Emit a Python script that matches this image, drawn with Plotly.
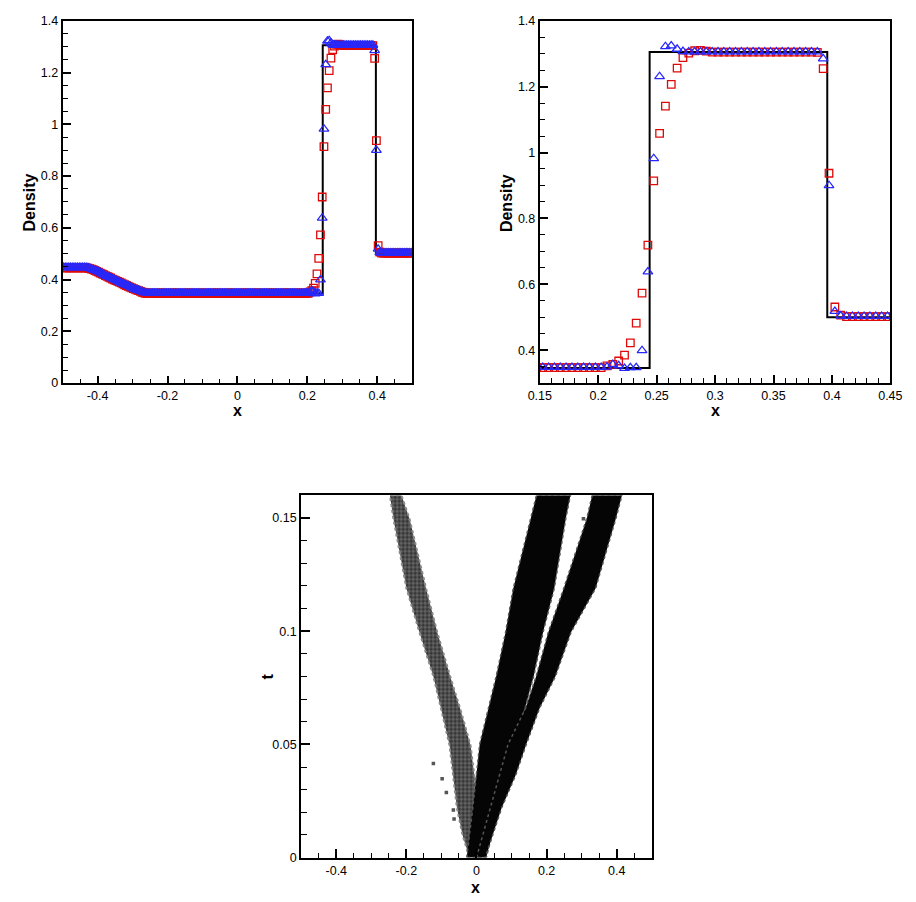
import plotly.graph_objects as go

# ---------------- data: density at t = 0.16 (cell centres) ----------------
x_cells = [
    -0.4975, -0.4925, -0.4875, -0.4825, -0.4775, -0.4725, -0.4675, -0.4625, -0.4575, -0.4525,
    -0.4475, -0.4425, -0.4375, -0.4325, -0.4275, -0.4225, -0.4175, -0.4125, -0.4075, -0.4025,
    -0.3975, -0.3925, -0.3875, -0.3825, -0.3775, -0.3725, -0.3675, -0.3625, -0.3575, -0.3525,
    -0.3475, -0.3425, -0.3375, -0.3325, -0.3275, -0.3225, -0.3175, -0.3125, -0.3075, -0.3025,
    -0.2975, -0.2925, -0.2875, -0.2825, -0.2775, -0.2725, -0.2675, -0.2625, -0.2575, -0.2525,
    -0.2475, -0.2425, -0.2375, -0.2325, -0.2275, -0.2225, -0.2175, -0.2125, -0.2075, -0.2025,
    -0.1975, -0.1925, -0.1875, -0.1825, -0.1775, -0.1725, -0.1675, -0.1625, -0.1575, -0.1525,
    -0.1475, -0.1425, -0.1375, -0.1325, -0.1275, -0.1225, -0.1175, -0.1125, -0.1075, -0.1025,
    -0.0975, -0.0925, -0.0875, -0.0825, -0.0775, -0.0725, -0.0675, -0.0625, -0.0575, -0.0525,
    -0.0475, -0.0425, -0.0375, -0.0325, -0.0275, -0.0225, -0.0175, -0.0125, -0.0075, -0.0025,
    0.0025, 0.0075, 0.0125, 0.0175, 0.0225, 0.0275, 0.0325, 0.0375, 0.0425, 0.0475,
    0.0525, 0.0575, 0.0625, 0.0675, 0.0725, 0.0775, 0.0825, 0.0875, 0.0925, 0.0975,
    0.1025, 0.1075, 0.1125, 0.1175, 0.1225, 0.1275, 0.1325, 0.1375, 0.1425, 0.1475,
    0.1525, 0.1575, 0.1625, 0.1675, 0.1725, 0.1775, 0.1825, 0.1875, 0.1925, 0.1975,
    0.2025, 0.2075, 0.2125, 0.2175, 0.2225, 0.2275, 0.2325, 0.2375, 0.2425, 0.2475,
    0.2525, 0.2575, 0.2625, 0.2675, 0.2725, 0.2775, 0.2825, 0.2875, 0.2925, 0.2975,
    0.3025, 0.3075, 0.3125, 0.3175, 0.3225, 0.3275, 0.3325, 0.3375, 0.3425, 0.3475,
    0.3525, 0.3575, 0.3625, 0.3675, 0.3725, 0.3775, 0.3825, 0.3875, 0.3925, 0.3975,
    0.4025, 0.4075, 0.4125, 0.4175, 0.4225, 0.4275, 0.4325, 0.4375, 0.4425, 0.4475,
    0.4525, 0.4575, 0.4625, 0.4675, 0.4725, 0.4775, 0.4825, 0.4875, 0.4925, 0.4975,
]

rho_squares = [
    0.445, 0.445, 0.445, 0.445, 0.445, 0.445, 0.445, 0.445, 0.445, 0.445,
    0.445, 0.445, 0.445, 0.445, 0.444, 0.442, 0.440, 0.438, 0.435, 0.432,
    0.429, 0.425, 0.422, 0.419, 0.415, 0.412, 0.409, 0.406, 0.402, 0.399,
    0.396, 0.393, 0.390, 0.387, 0.383, 0.380, 0.377, 0.374, 0.371, 0.368,
    0.365, 0.362, 0.359, 0.357, 0.354, 0.351, 0.349, 0.347, 0.347, 0.347,
    0.347, 0.347, 0.347, 0.347, 0.347, 0.347, 0.347, 0.347, 0.347, 0.347,
    0.347, 0.347, 0.347, 0.347, 0.347, 0.347, 0.347, 0.347, 0.347, 0.347,
    0.347, 0.347, 0.347, 0.347, 0.347, 0.347, 0.347, 0.347, 0.347, 0.347,
    0.347, 0.347, 0.347, 0.347, 0.347, 0.347, 0.347, 0.347, 0.347, 0.347,
    0.347, 0.347, 0.347, 0.347, 0.347, 0.347, 0.347, 0.347, 0.347, 0.347,
    0.347, 0.347, 0.347, 0.347, 0.347, 0.347, 0.347, 0.347, 0.347, 0.347,
    0.347, 0.347, 0.347, 0.347, 0.347, 0.347, 0.347, 0.347, 0.347, 0.347,
    0.347, 0.347, 0.347, 0.347, 0.347, 0.347, 0.347, 0.347, 0.347, 0.347,
    0.347, 0.347, 0.347, 0.347, 0.347, 0.347, 0.347, 0.347, 0.347, 0.347,
    0.347, 0.352, 0.357, 0.367, 0.385, 0.422, 0.482, 0.573, 0.719, 0.914,
    1.058, 1.141, 1.207, 1.256, 1.288, 1.302, 1.309, 1.310, 1.308, 1.305,
    1.305, 1.305, 1.305, 1.305, 1.305, 1.305, 1.305, 1.305, 1.305, 1.305,
    1.305, 1.305, 1.305, 1.305, 1.305, 1.305, 1.305, 1.304, 1.255, 0.937,
    0.531, 0.506, 0.502, 0.502, 0.502, 0.502, 0.502, 0.502, 0.502, 0.502,
    0.502, 0.502, 0.502, 0.502, 0.502, 0.502, 0.502, 0.502, 0.502, 0.502,
]

rho_triangles = [
    0.447, 0.447, 0.447, 0.447, 0.447, 0.447, 0.447, 0.447, 0.447, 0.447,
    0.447, 0.447, 0.447, 0.447, 0.446, 0.444, 0.441, 0.439, 0.436, 0.433,
    0.430, 0.426, 0.423, 0.420, 0.416, 0.413, 0.410, 0.407, 0.403, 0.400,
    0.397, 0.394, 0.391, 0.388, 0.384, 0.381, 0.378, 0.375, 0.372, 0.369,
    0.366, 0.363, 0.360, 0.358, 0.355, 0.352, 0.350, 0.349, 0.348, 0.348,
    0.348, 0.348, 0.348, 0.348, 0.348, 0.348, 0.348, 0.348, 0.348, 0.348,
    0.348, 0.348, 0.348, 0.348, 0.348, 0.348, 0.348, 0.348, 0.348, 0.348,
    0.348, 0.348, 0.348, 0.348, 0.348, 0.348, 0.348, 0.348, 0.348, 0.348,
    0.348, 0.348, 0.348, 0.348, 0.348, 0.348, 0.348, 0.348, 0.348, 0.348,
    0.348, 0.348, 0.348, 0.348, 0.348, 0.348, 0.348, 0.348, 0.348, 0.348,
    0.348, 0.348, 0.348, 0.348, 0.348, 0.348, 0.348, 0.348, 0.348, 0.348,
    0.348, 0.348, 0.348, 0.348, 0.348, 0.348, 0.348, 0.348, 0.348, 0.348,
    0.348, 0.348, 0.348, 0.348, 0.348, 0.348, 0.348, 0.348, 0.348, 0.348,
    0.348, 0.348, 0.348, 0.348, 0.348, 0.348, 0.348, 0.348, 0.348, 0.348,
    0.348, 0.349, 0.357, 0.353, 0.345, 0.347, 0.347, 0.399, 0.638, 0.982,
    1.231, 1.322, 1.324, 1.314, 1.307, 1.306, 1.306, 1.306, 1.306, 1.306,
    1.306, 1.306, 1.306, 1.306, 1.306, 1.306, 1.306, 1.306, 1.306, 1.306,
    1.306, 1.306, 1.306, 1.306, 1.306, 1.306, 1.306, 1.306, 1.285, 0.900,
    0.518, 0.504, 0.503, 0.503, 0.503, 0.503, 0.503, 0.503, 0.503, 0.503,
    0.503, 0.503, 0.503, 0.503, 0.503, 0.503, 0.503, 0.503, 0.503, 0.503,
]

# reference (exact) solution
x_exact = [-0.5, -0.421, -0.40, -0.38, -0.36, -0.34, -0.32, -0.30, -0.28, -0.263,
           0.244, 0.244, 0.396, 0.396, 0.5]
rho_exact = [0.445, 0.445, 0.431, 0.417, 0.404, 0.391, 0.379, 0.367, 0.355, 0.346,
             0.346, 1.305, 1.305, 0.5, 0.5]

# ---------------- data: troubled-cell regions in the x-t plane ----------------
rare_t = [0.0, 0.01, 0.022, 0.035, 0.0496, 0.065, 0.08, 0.0996, 0.119, 0.1496, 0.16]
rare_xl = [-0.02, -0.04, -0.056, -0.065, -0.077, -0.100, -0.123, -0.163, -0.200, -0.237, -0.247]
rare_xr = [0.0, 0.0, 0.0, -0.005, -0.017, -0.045, -0.075, -0.112, -0.144, -0.191, -0.214]

cont_t = [0.0, 0.02, 0.05, 0.08, 0.0996, 0.119, 0.15, 0.16]
cont_xl = [-0.028, -0.012, 0.009, 0.056, 0.083, 0.105, 0.155, 0.171]
cont_xr = [0.028, 0.06, 0.11, 0.163, 0.190, 0.222, 0.255, 0.268]

shock_t = [0.0, 0.022, 0.0365, 0.05, 0.066, 0.08, 0.0996, 0.119, 0.15, 0.16]
shock_xl = [0.0, 0.04, 0.065, 0.09, 0.14, 0.17, 0.205, 0.249, 0.315, 0.33]
shock_xr = [0.025, 0.072, 0.112, 0.142, 0.18, 0.225, 0.27, 0.34, 0.398, 0.415]

speck_x = [-0.123, -0.098, -0.086, -0.066, -0.064, 0.305]
speck_t = [0.0416, 0.0348, 0.0287, 0.021, 0.017, 0.1496]

# ---------------- figure ----------------
W, H = 916, 902
FONT = "Liberation Sans, Arial, Helvetica, sans-serif"
RED = "rgb(222,10,10)"
BLUE = "rgb(40,40,250)"

fig = go.Figure()

for xa, ya in (("x", "y"), ("x2", "y2")):
    fig.add_trace(go.Scatter(x=x_exact, y=rho_exact, mode="lines",
                             line=dict(color="black", width=2), xaxis=xa, yaxis=ya))
    fig.add_trace(go.Scatter(x=x_cells, y=rho_squares, mode="markers",
                             marker=dict(symbol="square-open", size=7.5, color=RED,
                                         line=dict(width=1.3, color=RED)),
                             xaxis=xa, yaxis=ya))
    fig.add_trace(go.Scatter(x=x_cells, y=rho_triangles, mode="markers",
                             marker=dict(symbol="triangle-up-open", size=8.5, color=BLUE,
                                         line=dict(width=1.3, color=BLUE)),
                             xaxis=xa, yaxis=ya))

def band(ts, xl, xr):
    return xl + xr[::-1] + [xl[0]], ts + ts[::-1] + [ts[0]]

bx, by = band(rare_t, rare_xl, rare_xr)
fig.add_trace(go.Scatter(x=bx, y=by, mode="lines", fill="toself",
                         fillcolor="#3a3a3a",
                         fillpattern=dict(shape=".", fgcolor="#000000", bgcolor="#6a6a6a",
                                          size=4, solidity=0.55),
                         line=dict(color="#8a8a8a", width=2, dash="dot"),
                         xaxis="x3", yaxis="y3"))
for ts, xl, xr in ((cont_t, cont_xl, cont_xr), (shock_t, shock_xl, shock_xr)):
    bx, by = band(ts, xl, xr)
    fig.add_trace(go.Scatter(x=bx, y=by, mode="lines", fill="toself",
                             fillcolor="#050505",
                             line=dict(color="#555555", width=1.5, dash="dot"),
                             xaxis="x3", yaxis="y3"))
fig.add_trace(go.Scatter(x=speck_x, y=speck_t, mode="markers",
                         marker=dict(symbol="square", size=3.5, color="#555555"),
                         xaxis="x3", yaxis="y3"))

def px_x(p):
    return p / W

def px_y(p):
    return 1 - p / H

tickfont = dict(family=FONT, size=12.5, color="black")
common = dict(showline=True, mirror=True, linecolor="black", linewidth=2,
              ticks="inside", ticklen=8, tickwidth=2, tickcolor="black",
              showgrid=False, zeroline=False, tickfont=tickfont)

def ax(domain, rng, tickvals, ticktext, minor_dtick, minor_tick0, anchor, major_len=8, minor_len=5):
    d = dict(common)
    d.update(domain=domain, range=rng, tickmode="array", tickvals=tickvals, ticktext=ticktext,
             anchor=anchor, ticklen=major_len,
             minor=dict(ticks="inside", dtick=minor_dtick, tick0=minor_tick0,
                        ticklen=minor_len, tickwidth=1.2, tickcolor="black", showgrid=False))
    return d

xt1 = [-0.4, -0.2, 0, 0.2, 0.4]
xt1_text = ["-0.4", "-0.2", "0", "0.2", "0.4"]

fig.update_layout(
    width=W, height=H,
    margin=dict(l=0, r=0, t=0, b=0),
    paper_bgcolor="white", plot_bgcolor="white",
    showlegend=False,
    font=dict(family=FONT, color="black"),
    xaxis=ax([px_x(52), px_x(411)], [-0.5, 0.5], xt1, xt1_text, 0.05, 0, "y", 7, 4),
    yaxis=ax([px_y(382), px_y(14)], [0, 1.4], [0, 0.2, 0.4, 0.6, 0.8, 1.0, 1.2, 1.4],
             ["0", "0.2", "0.4", "0.6", "0.8", "1", "1.2", "1.4"], 0.05, 0, "x", 8, 5),
    xaxis2=ax([px_x(542), px_x(902)], [0.15, 0.45],
              [0.15, 0.2, 0.25, 0.3, 0.35, 0.4, 0.45],
              ["0.15", "0.2", "0.25", "0.3", "0.35", "0.4", "0.45"], 0.01, 0.15, "y2", 8, 5),
    yaxis2=ax([px_y(382), px_y(14)], [0.3, 1.4], [0.4, 0.6, 0.8, 1.0, 1.2, 1.4],
              ["0.4", "0.6", "0.8", "1", "1.2", "1.4"], 0.05, 0.3, "x2", 8, 5),
    xaxis3=ax([px_x(297), px_x(657)], [-0.5, 0.5], xt1, xt1_text, 0.05, 0, "y3", 9, 5),
    yaxis3=ax([px_y(864), px_y(496)], [0, 0.16], [0, 0.05, 0.1, 0.15],
              ["0", "0.05", "0.1", "0.15"], 0.01, 0, "x3", 9, 6),
)

title_font = dict(family=FONT, size=16, color="black")
annotations = [
    dict(text="<b>Density</b>", x=px_x(18), y=px_y(199), textangle=-90),
    dict(text="<b>x</b>", x=px_x(231.5), y=px_y(410)),
    dict(text="<b>Density</b>", x=px_x(508.5), y=px_y(199), textangle=-90),
    dict(text="<b>x</b>", x=px_x(722), y=px_y(410)),
    dict(text="<b>t</b>", x=px_x(262), y=px_y(680), textangle=-90),
    dict(text="<b>x</b>", x=px_x(476), y=px_y(894)),
]
for a in annotations:
    a.update(xref="paper", yref="paper", showarrow=False, font=title_font,
             xanchor="center", yanchor="middle")
fig.update_layout(annotations=annotations)

fig.write_html(
    "out.html",
    config={"displayModeBar": False},
    post_script="document.body.style.margin='0px';document.body.style.overflow='hidden';",
)
